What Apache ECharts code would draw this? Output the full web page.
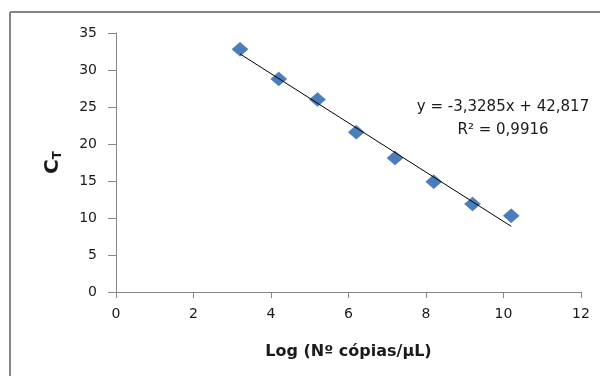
<!DOCTYPE html>
<html>
<head>
<meta charset="utf-8">
<script src="https://cdn.jsdelivr.net/npm/echarts@6/dist/echarts.min.js"></script>
<style>
  html, body { margin: 0; padding: 0; background: #fff; }
  #chart { width: 600px; height: 376px; }
</style>
</head>
<body>
<div id="chart"></div>
<script>
// values
const logCopies = [3.2, 4.2, 5.2, 6.2, 7.2, 8.2, 9.2, 10.2];
const ctValues = [32.8, 28.8, 26.0, 21.6, 18.1, 14.9, 11.9, 10.3];
// trend line ends (y = -3,3285x + 42,817)
const trendX = [3.2, 10.2];
const trendY = [32.17, 8.87];
const equationLines = ["y = -3,3285x + 42,817", "R² = 0,9916"];

const axisGray = "#868686";
const textColor = "#1a1a1a";
const font = "DejaVu Sans";

const chart = echarts.init(document.getElementById("chart"));

const option = {
  animation: false,
  grid: { left: 116, right: 19, top: 33, bottom: 84 },
  xAxis: {
    type: "value",
    min: 0,
    max: 12,
    interval: 2,
    name: "Log (Nº cópias/µL)",
    nameLocation: "middle",
    nameGap: 52,
    nameTextStyle: { color: textColor, fontFamily: font, fontSize: 16, fontWeight: "bold" },
    axisLine: { show: true, lineStyle: { color: axisGray, width: 1 } },
    axisTick: { show: true, length: 6, lineStyle: { color: axisGray } },
    axisLabel: { color: textColor, fontFamily: font, fontSize: 14, margin: 15 },
    splitLine: { show: false },
  },
  yAxis: {
    type: "value",
    min: 0,
    max: 35,
    interval: 5,
    name: "{c|C}{t|T}",
    nameLocation: "middle",
    nameRotate: 90,
    nameGap: 52,
    nameTextStyle: {
      rich: {
        c: { color: textColor, fontFamily: font, fontSize: 20, fontWeight: "bold" },
        t: { color: textColor, fontFamily: font, fontSize: 12, fontWeight: "bold", padding: [10, 0, 0, 0] },
      },
    },
    axisLine: { show: true, lineStyle: { color: axisGray, width: 1 } },
    axisTick: { show: true, length: 8, lineStyle: { color: axisGray } },
    axisLabel: { color: textColor, fontFamily: font, fontSize: 14, margin: 19 },
    splitLine: { show: false },
  },
  series: [
    {
      name: "trend",
      type: "line",
      data: trendX.map((x, i) => [x, trendY[i]]),
      showSymbol: false,
      lineStyle: { color: "#000", width: 1 },
      silent: true,
      z: 3,
    },
    {
      name: "CT",
      type: "scatter",
      data: logCopies.map((x, i) => [x, ctValues[i]]),
      symbol: "diamond",
      symbolSize: [16, 14],
      itemStyle: { color: "#4A7EBB", borderColor: "#3E6EA8", borderWidth: 0.5, opacity: 1 },
      z: 2,
    },
  ],
  graphic: [
    {
      type: "line",
      shape: { x1: 10, y1: 12, x2: 600, y2: 12 },
      style: { stroke: "#868686", lineWidth: 2 },
    },
    {
      type: "line",
      shape: { x1: 10, y1: 12, x2: 10, y2: 376 },
      style: { stroke: "#868686", lineWidth: 2 },
    },
    {
      type: "text",
      x: 503,
      y: 119,
      style: {
        text: equationLines.join("\n"),
        fill: textColor,
        font: "15px " + font,
        align: "center",
        verticalAlign: "middle",
        lineHeight: 23,
      },
    },
  ],
};

chart.setOption(option);
</script>
</body>
</html>
